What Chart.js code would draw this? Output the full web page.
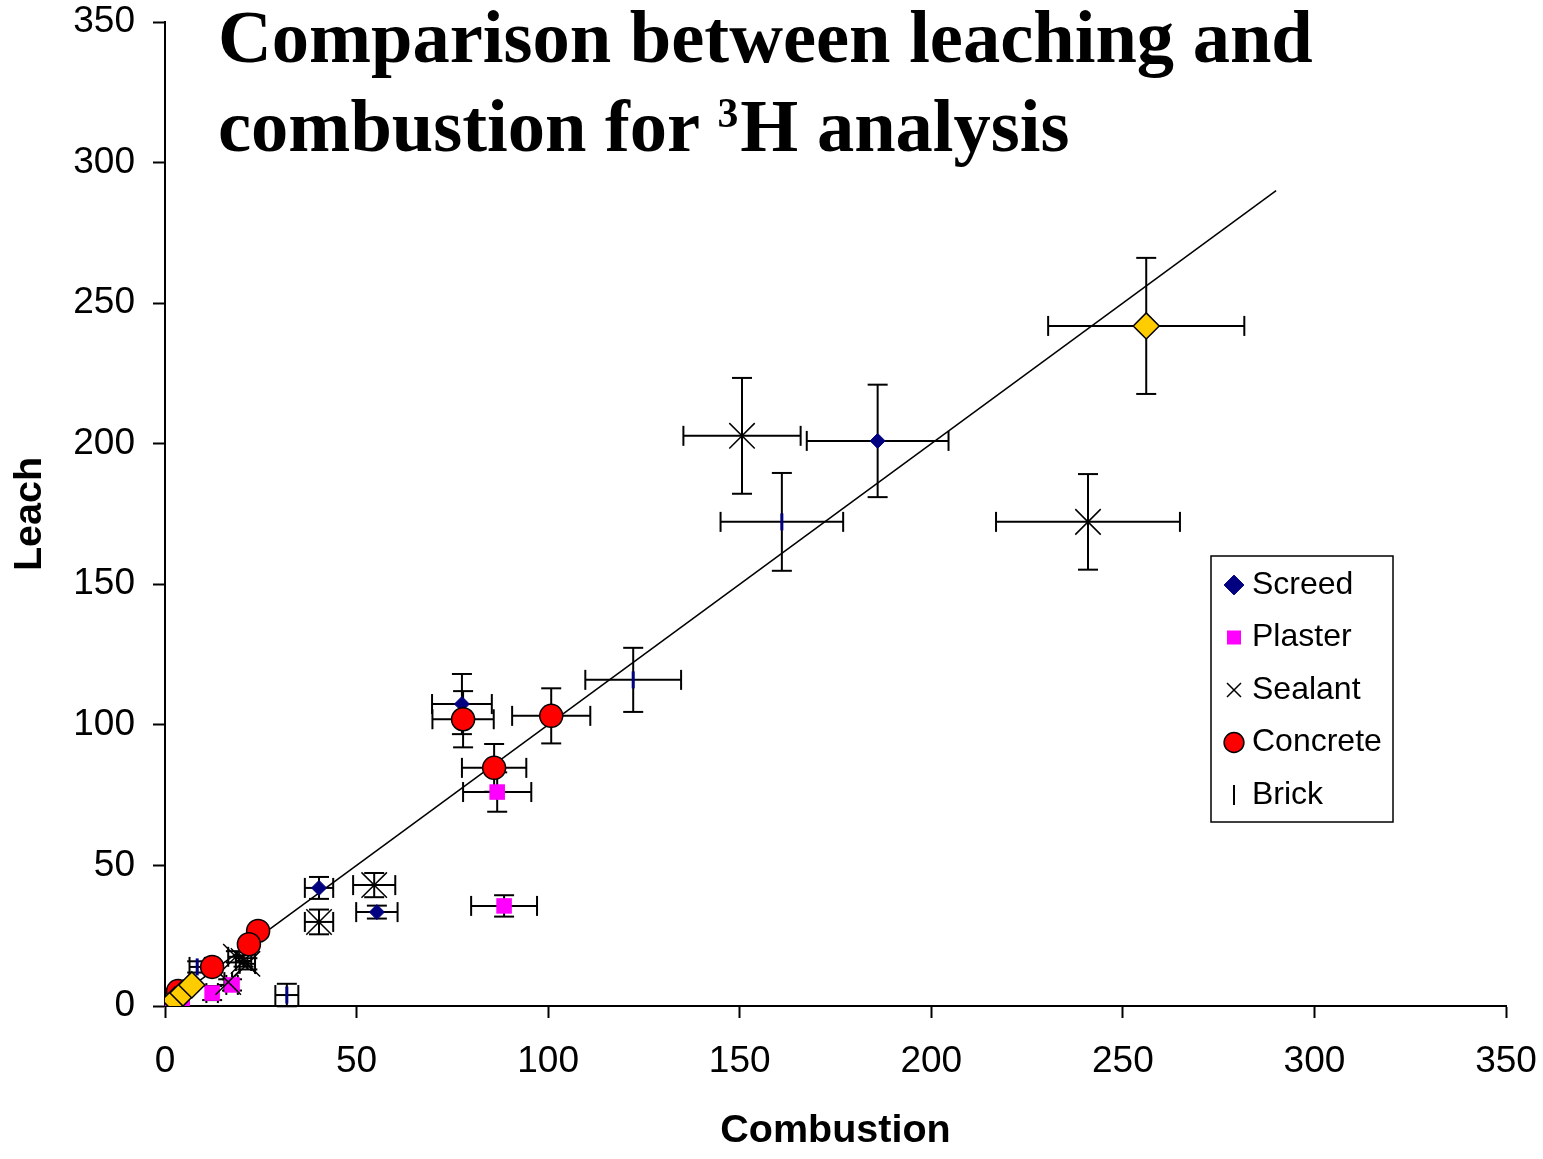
<!DOCTYPE html>
<html><head><meta charset="utf-8">
<script src="https://cdn.jsdelivr.net/npm/chart.js@4.4.1/dist/chart.umd.min.js"></script>
<style>
html,body{margin:0;padding:0;background:#fff;}
#wrap{position:relative;width:1543px;height:1159px;overflow:hidden;}
#c{position:absolute;left:0;top:0;}
#title{position:absolute;left:218px;top:-7px;margin:0;font-family:"Liberation Serif","Times New Roman",serif;font-weight:bold;font-size:74.5px;line-height:89px;color:#000;white-space:nowrap;}
#title sup{font-size:0.56em;position:relative;top:-0.58em;vertical-align:baseline;line-height:0;margin-right:2px;}
</style></head><body>
<div id="wrap">
<canvas id="c" width="1543" height="1159"></canvas>
<h1 id="title">Comparison between leaching and<br>combustion for <sup>3</sup>H analysis</h1>
</div>
<script>
// ---- axis ----
const axisMin = 0, axisMax = 350, axisStep = 50;
const xTitle = 'Combustion';
const yTitle = 'Leach';

// ---- series (Combustion = x, Leach = y, with ± errors) ----
const screedX    = [186, 77.5, 40.2, 55.3];
const screedY    = [201, 107.4, 42, 33.4];
const screedXErr = [18.5, 7.8, 3.7, 5.4];
const screedYErr = [20, 10.7, 3.9, 2.3];

const plasterX    = [86.7, 88.5, 12.3, 17.5, 0.8, 4.5];
const plasterY    = [76.1, 35.6, 4.6, 7.5, 0.8, 1.2];
const plasterXErr = [8.9, 8.6, 1.5, 1.5, 0, 0];
const plasterYErr = [7, 3.8, 2.5, 2, 0, 0];

const sealantX    = [150.6, 240.9, 40.2, 54.6, 18.5, 20.5, 21.5, 16.5];
const sealantY    = [202.8, 172.2, 29.9, 43, 17.5, 16, 15, 8.5];
const sealantXErr = [15.3, 24, 3.7, 5.5, 2, 2, 2, 1];
const sealantYErr = [20.6, 17, 4.4, 4.3, 2, 2, 2, 1];

const concreteX    = [100.8, 85.9, 77.8, 24.3, 21.9, 12.3, 3.4];
const concreteY    = [103.2, 84.7, 102, 26.7, 22, 13.9, 5.3];
const concreteXErr = [10.2, 8.4, 8, 1.5, 1.5, 1.5, 0.5];
const concreteYErr = [9.8, 8.5, 10, 2, 2, 2, 1];

const brickX    = [161, 122.2, 31.8, 8.4];
const brickY    = [172.2, 116, 3.9, 13.9];
const brickXErr = [16, 12.5, 3, 2];
const brickYErr = [17.4, 11.4, 4, 2];

const otherX    = [256.1, 2.6, 4.7, 7];
const otherY    = [241.9, 2.1, 4.6, 7.5];
const otherXErr = [25.6, 0, 0, 0];
const otherYErr = [24.2, 0, 0, 0];

const trendX = [0, 290];
const trendY = [0, 290];

const pts = (xs, ys) => xs.map((x, i) => ({x: x, y: ys[i]}));
const SANS = '"Liberation Sans", Arial, sans-serif';

const errorBarPlugin = {
  id: 'errorBars',
  beforeDatasetsDraw(chart) {
    const ctx = chart.ctx, xs = chart.scales.x, ys = chart.scales.y;
    const cap = 10;
    ctx.save();
    ctx.strokeStyle = '#000';
    ctx.lineWidth = 2;
    const seg = (a, b, c, d) => { ctx.beginPath(); ctx.moveTo(a, b); ctx.lineTo(c, d); ctx.stroke(); };
    chart.data.datasets.forEach((ds, i) => {
      if (!ds.errX || !chart.isDatasetVisible(i)) return;
      ds.data.forEach((p, j) => {
        const ex = ds.errX[j], ey = ds.errY[j];
        const px = xs.getPixelForValue(p.x), py = ys.getPixelForValue(p.y);
        if (ex > 0) {
          const l = xs.getPixelForValue(p.x - ex), r = xs.getPixelForValue(p.x + ex);
          seg(l, py, r, py); seg(l, py - cap, l, py + cap); seg(r, py - cap, r, py + cap);
        }
        if (ey > 0) {
          const t = ys.getPixelForValue(p.y + ey), b = ys.getPixelForValue(p.y - ey);
          seg(px, t, px, b); seg(px - cap, t, px + cap, t); seg(px - cap, b, px + cap, b);
        }
      });
    });
    ctx.restore();
  }
};

const legendPlacePlugin = {
  id: 'legendPlace',
  afterLayout(chart) {
    const lg = chart.legend;
    if (!lg) return;
    lg.left = 1211.5; lg.top = 548.5;
    lg.width = 182; lg.height = 310;
    lg.right = lg.left + lg.width; lg.bottom = lg.top + lg.height;
  },
  afterDraw(chart) {
    const lg = chart.legend, ctx = chart.ctx;
    ctx.save();
    ctx.strokeStyle = '#000';
    ctx.lineWidth = 1.5;
    ctx.strokeRect(lg.left - 0.5, lg.top + 7.5, 182, 266);
    ctx.restore();
  }
};

new Chart(document.getElementById('c'), {
  type: 'scatter',
  data: {
    datasets: [
      { label: 'Screed', data: pts(screedX, screedY), errX: screedXErr, errY: screedYErr,
        pointStyle: 'rectRot', pointRadius: 7.5, backgroundColor: '#000080', borderColor: '#000080', borderWidth: 1, order: 6 },
      { label: 'Plaster', data: pts(plasterX, plasterY), errX: plasterXErr, errY: plasterYErr,
        pointStyle: 'rect', pointRadius: 11, backgroundColor: '#FF00FF', borderColor: '#FF00FF', borderWidth: 0, order: 5 },
      { label: 'Sealant', data: pts(sealantX, sealantY), errX: sealantXErr, errY: sealantYErr,
        pointStyle: 'crossRot', pointRadius: 18, backgroundColor: 'rgba(0,0,0,0)', borderColor: '#000', borderWidth: 1.5, order: 4 },
      { label: 'Concrete', data: pts(concreteX, concreteY), errX: concreteXErr, errY: concreteYErr,
        pointStyle: 'circle', pointRadius: 11.5, backgroundColor: '#FF0000', borderColor: '#000', borderWidth: 1.5, order: 3 },
      { label: 'Brick', data: pts(brickX, brickY), errX: brickXErr, errY: brickYErr,
        pointStyle: 'line', pointRotation: 90, pointRadius: 8.5, backgroundColor: '#000080', borderColor: '#000080', borderWidth: 3, order: 2 },
      { label: '', data: pts(otherX, otherY), errX: otherXErr, errY: otherYErr,
        pointStyle: 'rectRot', pointRadius: 13, backgroundColor: '#FFCC00', borderColor: '#000', borderWidth: 1.5, order: 1 },
      { type: 'line', label: '', data: pts(trendX, trendY), borderColor: '#000', borderWidth: 1.5,
        pointRadius: 0, fill: false, showLine: true, order: 7 }
    ]
  },
  options: {
    responsive: false,
    animation: false,
    events: [],
    layout: { padding: { top: 22, right: 37, left: 0, bottom: 0 } },
    plugins: {
      tooltip: { enabled: false },
      title: { display: false },
      legend: {
        position: 'chartArea',
        align: 'start',
        labels: {
          usePointStyle: true,
          boxWidth: 4,
          boxHeight: 14,
          padding: 20.5,
          color: '#000',
          font: { family: SANS, size: 32 },
          sort: (a, b) => a.datasetIndex - b.datasetIndex,
          filter: (it) => it.text !== '',
          generateLabels(chart) {
            const items = Chart.defaults.plugins.legend.labels.generateLabels(chart);
            items.forEach(it => { if (it.text === 'Brick') { it.strokeStyle = '#000'; it.lineWidth = 2; } });
            return items;
          }
        }
      }
    },
    scales: {
      x: {
        type: 'linear', min: axisMin, max: axisMax,
        ticks: { stepSize: axisStep, color: '#000', font: { family: SANS, size: 37 }, padding: 22, maxRotation: 0, autoSkip: false },
        grid: { drawOnChartArea: false, drawTicks: true, tickLength: 12, tickColor: '#000', tickWidth: 2 },
        border: { display: true, color: '#000', width: 2 },
        title: { display: true, text: xTitle, color: '#000', font: { family: SANS, size: 39.5, weight: 'bold' }, padding: { top: 0, bottom: 4 } },
        afterFit: (s) => { s.height = 153; s.paddingLeft = 0; s.paddingRight = 0; }
      },
      y: {
        type: 'linear', min: axisMin, max: axisMax,
        ticks: { stepSize: axisStep, color: '#000', font: { family: SANS, size: 37 }, padding: 18, autoSkip: false },
        grid: { drawOnChartArea: false, drawTicks: true, tickLength: 12, tickColor: '#000', tickWidth: 2 },
        border: { display: true, color: '#000', width: 2 },
        title: { display: true, text: yTitle, color: '#000', font: { family: SANS, size: 39.5, weight: 'bold' }, padding: { top: 6, bottom: 0 } },
        afterFit: (s) => { s.width = 165; s.paddingTop = 0; s.paddingBottom = 0; }
      }
    }
  },
  plugins: [errorBarPlugin, legendPlacePlugin]
});
</script>
</body></html>
